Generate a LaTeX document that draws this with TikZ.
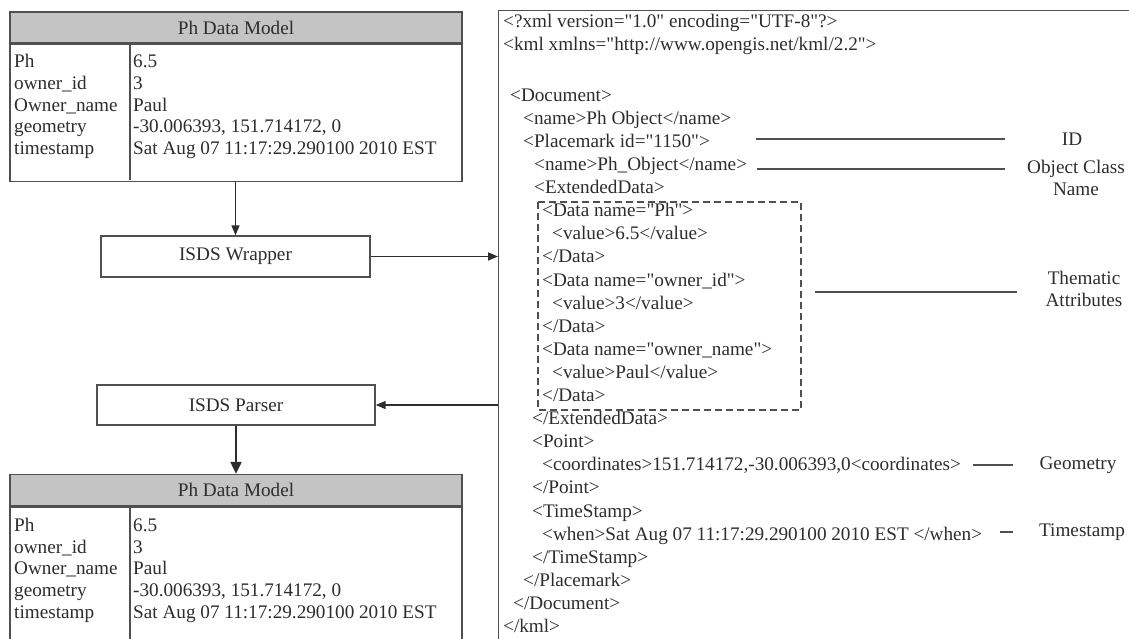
\documentclass[tikz,border=0pt]{standalone}
\usepackage{fontspec}
\setmainfont{Liberation Serif}[Ligatures=TeXOff]
\usetikzlibrary{arrows.meta}
\definecolor{ink}{RGB}{45,45,45}
\definecolor{rule}{RGB}{80,80,80}
\definecolor{headfill}{RGB}{196,196,196}
\begin{document}
\begin{tikzpicture}[x=1pt,y=-1pt,
  every node/.style={font=\fontsize{19.2}{22.5}\selectfont, text=ink},
  txt/.style={anchor=west, inner sep=0pt, text height=13.5pt, text depth=4pt},
  boxnode/.style={draw=rule, line width=1.4pt, inner sep=0pt},
  headnode/.style={boxnode, fill=headfill, minimum width=452pt, minimum height=31pt},
  flow/.style={draw=ink, line width=1.6pt, -{Triangle[length=10pt,width=8pt]}},
  ann/.style={draw=rule, line width=1.4pt},
  lbl/.style={align=center, inner sep=0pt},
]
\useasboundingbox (0,0) rectangle (1129,638);

% ---- upper data model table ----
\node[headnode] (h1) at (236,27.5) {Ph Data Model};
\node[boxnode, minimum width=452pt, minimum height=137pt, anchor=north] (b1) at (h1.south) {};
\draw[draw=rule, line width=1.4pt] (130,43) -- (130,180);
\foreach \k/\a/\v [count=\i from 0] in {
  p/Ph/6.5,
  o/owner\_id/3,
  n/Owner\_name/Paul,
  g/geometry/{-30.006393, 151.714172, 0},
  t/timestamp/Sat Aug 07 11:17:29.290100 2010 EST}{
  \node[txt] (ta\k) at (14,63+21.7*\i) {\a};
  \node[txt] (tv\k) at (133,63+21.7*\i) {\v};
}

% ---- processing steps ----
\node[boxnode, minimum width=269pt, minimum height=41pt] (wrap) at (235.5,256.5) {ISDS Wrapper};
\node[boxnode, minimum width=278pt, minimum height=40pt] (parse) at (236,405) {ISDS Parser};

% ---- lower data model table ----
\node[headnode] (h2) at (236,490) {Ph Data Model};
\node[boxnode, minimum width=452pt, minimum height=150pt, anchor=north] (b2) at (h2.south) {};
\draw[draw=rule, line width=1.4pt] (130,506) -- (130,660);
\foreach \k/\a/\v [count=\i from 0] in {
  p/Ph/6.5,
  o/owner\_id/3,
  n/Owner\_name/Paul,
  g/geometry/{-30.006393, 151.714172, 0},
  t/timestamp/Sat Aug 07 11:17:29.290100 2010 EST}{
  \node[txt] (ba\k) at (14,527+21.6*\i) {\a};
  \node[txt] (bv\k) at (133,527+21.6*\i) {\v};
}

% ---- KML document panel ----
\node[boxnode, minimum width=642pt, minimum height=650pt, anchor=north west] (panel) at (498,10) {};

\node[txt] (k1) at (503,23) {<?xml version="1.0" encoding="UTF-8"?>};
\node[txt] (k2) at (503,46) {<kml xmlns="http://www.opengis.net/kml/2.2">};
\foreach \xx/\t [count=\i from 0] in {
  510/{<Document>},
  523/{<name>Ph Object</name>},
  523/{<Placemark id="1150">},
  534/{<name>Ph\_Object</name>},
  534/{<ExtendedData>},
  542/{<Data name="Ph">},
  552/{<value>6.5</value>},
  542/{</Data>},
  542/{<Data name="owner\_id">},
  552/{<value>3</value>},
  542/{</Data>},
  542/{<Data name="owner\_name">},
  552/{<value>Paul</value>},
  542/{</Data>},
  532/{</ExtendedData>},
  532/{<Point>},
  542/{<coordinates>151.714172,-30.006393,0<coordinates>},
  532/{</Point>},
  532/{<TimeStamp>},
  542/{<when>Sat Aug 07 11:17:29.290100 2010 EST </when>},
  532/{</TimeStamp>},
  523/{</Placemark>},
  513/{</Document>},
  503/{</kml>}}{
  \node[txt] (d\i) at (\xx,96.5+23.1*\i) {\t};
}

% thematic attribute block
\draw[draw=rule, line width=1.4pt, dash pattern=on 7pt off 4pt] (538,202) rectangle (801,410);

% ---- annotations ----
\node[lbl] (lid) at (1072,139) {ID};
\node[lbl] (lcls) at (1076,178) {Object Class\\Name};
\node[lbl] (lthm) at (1084,289) {Thematic\\Attributes};
\node[lbl] (lgeo) at (1078,465) {Geometry};
\node[lbl] (ltim) at (1082,532) {Timestamp};

\coordinate (ia) at (756,139);   \coordinate (ib) at (1005,139);
\coordinate (ca) at (757,169);   \coordinate (cb) at (1005,169);
\coordinate (ta) at (815,292);   \coordinate (tb) at (1017,292);
\coordinate (ga) at (973,465);   \coordinate (gb) at (1013,465);
\coordinate (sa) at (1000,532);  \coordinate (sb) at (1013,532);
\draw[ann] (ia) -- (ib);
\draw[ann] (ca) -- (cb);
\draw[ann] (ta) -- (tb);
\draw[ann] (ga) -- (gb);
\draw[ann] (sa) -- (sb);

% ---- flow ----
\draw[flow] (wrap.north |- b1.south) -- (wrap.north);
\draw[flow] (wrap.east) -- (wrap.east -| panel.west);
\draw[flow] (panel.west |- parse.east) -- (parse.east);
\draw[flow, line width=2.2pt, -{Triangle[length=12pt,width=11pt]}] (parse.south) -- (parse.south |- h2.north);
\end{tikzpicture}
\end{document}
